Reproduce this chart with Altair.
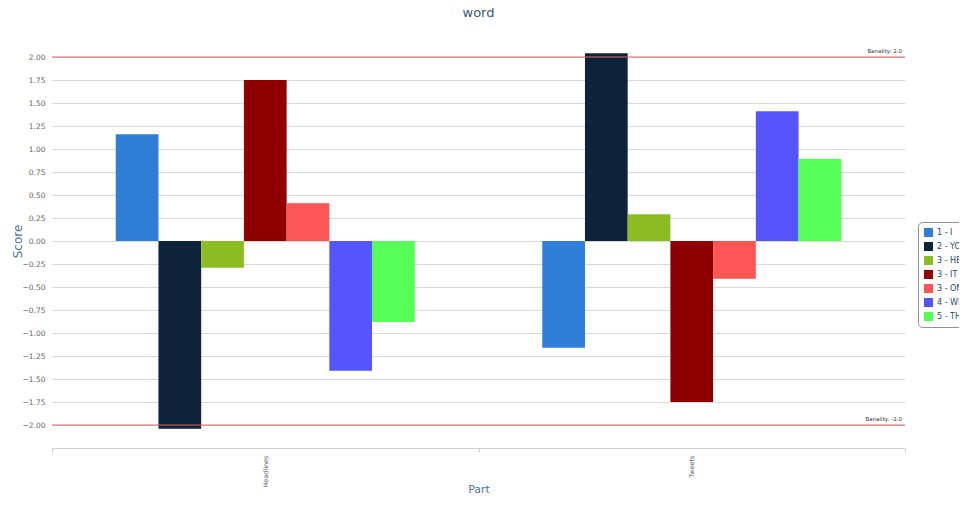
import altair as alt
import pandas as pd

parts = ["Headlines", "Tweets"]
series = ["1 - I", "2 - YOU", "3 - HE/SHE", "3 - IT", "3 - ONE", "4 - WE", "5 - THEY"]
colors = ["#2f7ed8", "#0d233a", "#8bbc21", "#910000", "#ff5555", "#5555ff", "#55ff55"]
headlines = [1.16, -2.04, -0.29, 1.75, 0.41, -1.41, -0.88]
tweets = [-1.16, 2.04, 0.29, -1.75, -0.41, 1.41, 0.89]

band_values = [2.0, -2.0]
band_labels = ["Banality: 2.0", "Banality: -2.0"]
y_ticks = [-2.0, -1.75, -1.5, -1.25, -1.0, -0.75, -0.5, -0.25, 0.0,
           0.25, 0.5, 0.75, 1.0, 1.25, 1.5, 1.75, 2.0]

rows = []
for p, vals in zip(parts, [headlines, tweets]):
    for s, v in zip(series, vals):
        rows.append({"Part": p, "series": s, "Score": v})
df = pd.DataFrame(rows)
bands = pd.DataFrame({"v": band_values, "label": band_labels})

FONT = "DejaVu Sans"
yscale = alt.Scale(domain=[-2.25, 2.25], nice=False, zero=False)
yaxis = alt.Axis(title="Score", values=y_ticks, format=".2f",
                 labelFontSize=7.5, labelColor="#666666", labelFont=FONT,
                 labelOverlap=False,
                 titleColor="#4d759e", titleFont=FONT, titleFontSize=12,
                 titleFontWeight="normal", titleAngle=-90,
                 titleBaseline="middle", titleAlign="center",
                 titleX=-35, titleY=207,
                 domain=False, ticks=False, gridColor="#d8d8d8",
                 labelPadding=7)

bars = alt.Chart(df).mark_bar().encode(
    x=alt.X("Part:N", sort=parts,
            scale=alt.Scale(paddingInner=0, paddingOuter=0),
            axis=alt.Axis(title="Part", labelAngle=-90, labelFontSize=6.5,
                          labelColor="#666666", labelFont=FONT,
                          titleColor="#4d759e", titleFont=FONT, titleFontSize=11,
                          titleFontWeight="normal", titleY=41,
                          titleBaseline="middle",
                          domainColor="#d0d0d0", tickColor="#d0d0d0",
                          tickSize=4, tickBand="extent", grid=False,
                          labelPadding=3)),
    xOffset=alt.XOffset("series:N", sort=series,
                        scale=alt.Scale(range=[63.75, 362.75], paddingInner=0,
                                        paddingOuter=0)),
    y=alt.Y("Score:Q", scale=yscale, axis=yaxis),
    color=alt.Color("series:N", sort=series,
                    scale=alt.Scale(domain=series, range=colors),
                    legend=alt.Legend(title=None, orient="none", legendX=866,
                                      legendY=188, symbolType="square",
                                      symbolSize=81, symbolStrokeWidth=0,
                                      labelFontSize=8, labelColor="#274b6d",
                                      labelFont=FONT, rowPadding=5,
                                      strokeColor="#909090", cornerRadius=4,
                                      padding=6, fillColor="white")),
)

rules = alt.Chart(bands).mark_rule(color="#e06666", strokeWidth=1).encode(
    y=alt.Y("v:Q", scale=yscale, axis=yaxis)
)

texts = alt.Chart(bands).mark_text(align="right", baseline="bottom", dy=-3,
                                   fontSize=5.5, font=FONT, color="#333333").encode(
    x=alt.value(850),
    y=alt.Y("v:Q", scale=yscale, axis=yaxis),
    text="label:N",
)

chart = alt.layer(bars, rules, texts).properties(
    width=853, height=414,
    autosize=alt.AutoSizeParams(type="none"),
    padding={"left": 44, "right": 54, "top": 26, "bottom": 48},
    background="white",
    title=alt.Title("word", fontSize=13, color="#3e576f", font=FONT,
                    fontWeight="normal", anchor="middle", offset=14),
).configure_view(strokeWidth=0, stroke="transparent")

chart.save("out.html", embed_options={"renderer": "svg", "actions": False})
